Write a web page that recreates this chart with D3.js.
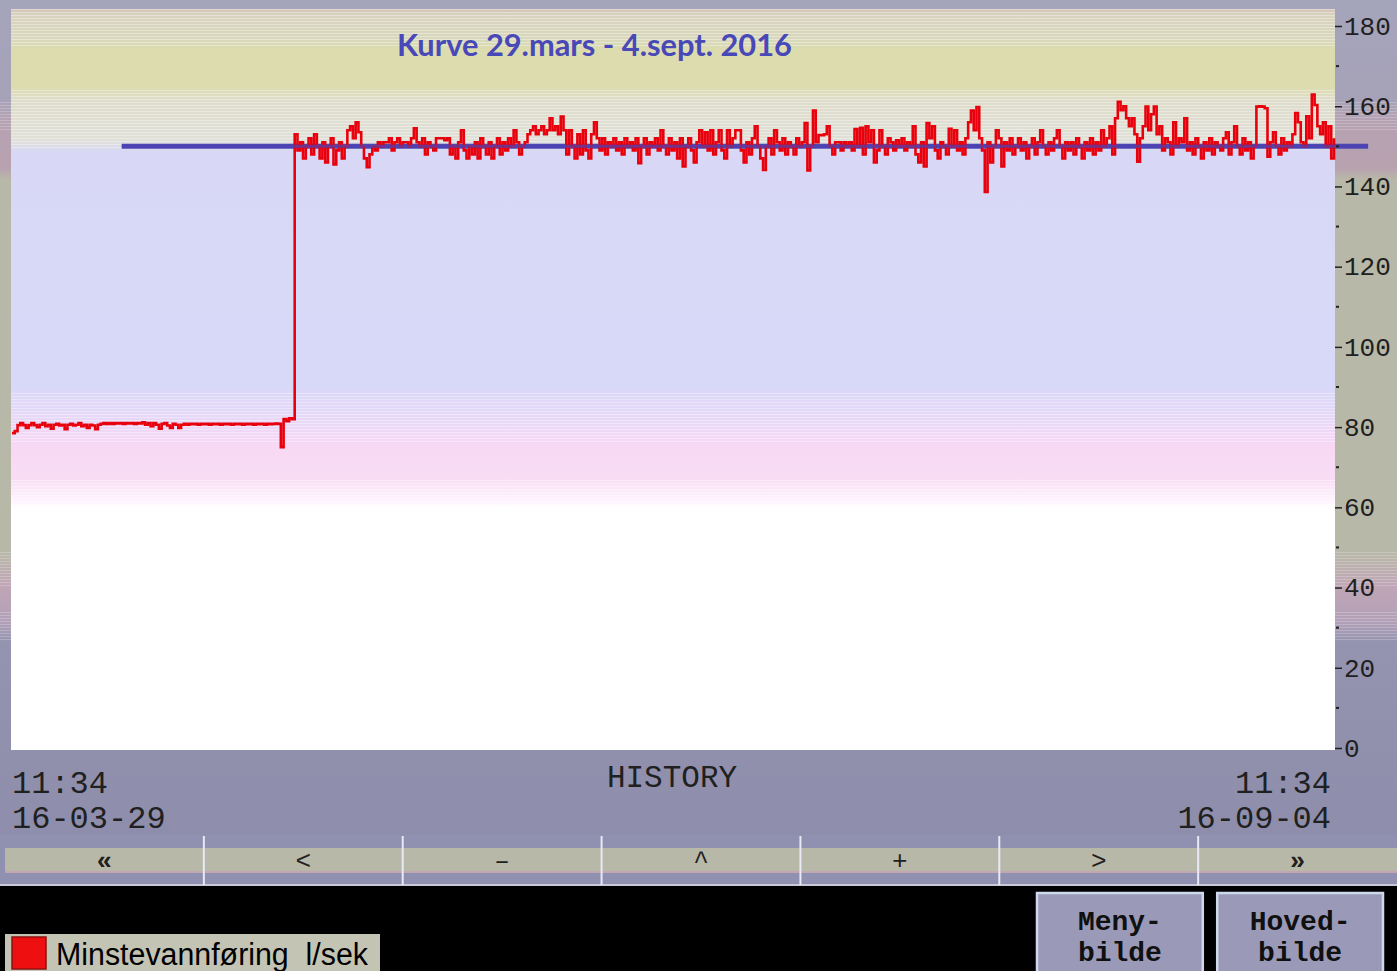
<!DOCTYPE html>
<html>
<head>
<meta charset="utf-8">
<script src="https://cdn.jsdelivr.net/npm/d3@7"></script>
<style>
  body { margin: 0; background: #000; }
  svg { display: block; }
</style>
</head>
<body>
<svg width="1397" height="971"></svg>
<script>
// Minstevannføring (l/sek), one sample every 8 hours from 29.03.2016 11:34
const flow = [
  78.5, 79, 80.5, 81, 80.5, 79.8, 80.5, 81, 80.5, 80,
  80.6, 81, 80.2, 80.6, 79.6, 80.6, 80.8, 80.4, 80.6, 79.5,
  80.6, 80.8, 80.4, 80.6, 81, 80.2, 80.6, 79.8, 80.6, 80.4,
  79.5, 80.6, 80.8, 81, 80.8, 81, 80.8, 81, 80.9, 81,
  80.8, 81, 80.9, 81, 80.8, 81, 80.9, 81.2, 80.6, 81,
  80.2, 81, 80.6, 79.6, 80.8, 81, 80.4, 79.8, 80.8, 80.6,
  79.8, 80.6, 80.8, 80.6, 80.8, 80.7, 80.8, 80.6, 80.8, 80.7,
  80.8, 80.6, 80.8, 80.7, 80.8, 80.6, 80.8, 80.7, 80.8, 80.6,
  80.8, 80.7, 80.8, 80.6, 80.8, 80.7, 80.8, 80.6, 80.8, 80.7,
  80.8, 80.6, 80.8, 80.7, 80.8, 80.9, 80.8, 75, 82, 81.5,
  82.2, 82,
  153, 149, 151, 147, 150, 152, 148, 153, 150, 147,
  151, 146, 150, 152, 145.5, 149, 151, 147, 150, 154,
  155, 152, 156, 153.5, 150, 147, 144.8, 148, 150, 149,
  151, 150, 151, 151, 152, 149, 151, 152, 150, 151,
  151, 150, 152, 154.5, 151, 150, 152, 148, 151, 150,
  149, 152, 152, 152, 151.5, 152, 148, 150, 147, 151,
  154, 149, 147, 150, 148, 151, 147, 152, 150, 148,
  151, 147, 150, 152, 148, 151, 149, 152, 150, 154,
  151, 148, 150, 151, 153, 154, 155, 153, 154, 155,
  153, 154, 157, 154, 155, 153, 157.4, 154, 148, 154,
  150, 147, 153, 148, 154, 149, 147, 153, 156, 152,
  149, 152, 148, 151, 150, 152, 149, 151, 148, 152,
  150, 151, 149, 152, 145.8, 150, 152, 148, 151, 150,
  152, 149, 154, 150, 148, 152, 149, 151, 147, 152,
  145, 150, 152, 149, 146, 151, 154, 150, 153.5, 149,
  154, 148, 151, 154, 149, 147, 154, 150, 152, 154,
  154, 149, 146, 151, 148, 152, 155, 150, 147, 144.1,
  150, 152, 148, 154, 151, 149, 152, 148, 151, 150,
  148, 152, 150, 151, 155.8, 144, 150, 158.9, 151, 152.8,
  152.8, 153, 155, 150, 148, 151, 151, 149, 151, 150,
  151, 149, 154.3, 150, 154.6, 148, 155, 151, 154, 146,
  149, 154, 150, 148, 152, 151, 149, 151.5, 150, 152,
  149, 151, 150, 155, 148, 146, 151, 145, 155.8, 152,
  155, 149, 147, 151, 150, 148, 154.4, 150, 154, 149,
  151, 148, 152, 156, 158.9, 154, 159.8, 152, 149, 138.6,
  151, 146, 150, 154, 152, 145, 151, 149, 152, 148,
  150, 152, 149, 151, 147, 150, 152, 148, 151, 154,
  150, 148, 151, 149, 152, 154, 150, 147, 151, 149,
  151, 148, 152, 150, 147, 151, 149, 152, 148, 151,
  149, 154, 150, 152, 155, 148, 157, 161.1, 159, 160,
  157, 155, 157, 153, 146.2, 152, 155, 159.9, 154, 158,
  159.9, 153, 155, 149, 152, 151, 148, 156, 150, 152,
  151, 157, 149, 151, 148, 152, 150, 147, 151, 149,
  152, 148, 151, 150, 149, 152, 153.5, 148, 151, 155,
  150, 148, 152, 149, 151, 147, 150, 159.9, 160, 159.9,
  159.5, 147.4, 151, 153.5, 150, 148, 152, 149, 151, 150,
  153, 158.3, 156, 151, 150, 157.5, 152, 162.9, 160.3, 155,
  153, 156, 150, 155, 147, 152
];

// setpoint line (blue), from / to
const setpoint = [
  { t: "2016-04-11T16:20Z", v: 150 },
  { t: "2016-09-08T14:00Z", v: 150 }
];

const yTicks = [0, 20, 40, 60, 80, 100, 120, 140, 160, 180];
const yMinor = [10, 30, 50, 70, 90, 110, 130, 150, 170];
const navButtons = ["«", "<", "–", "^", "+", ">", "»"];
const title = "Kurve 29.mars - 4.sept. 2016";
const startLabel = ["11:34", "16-03-29"];
const endLabel = ["11:34", "16-09-04"];
const legendText = "Minstevannføring  l/sek";
const screenButtons = [["Meny-", "bilde"], ["Hoved-", "bilde"]];

const tStart = new Date(Date.UTC(2016, 2, 29, 11, 34));
const tEnd = new Date(Date.UTC(2016, 8, 4, 11, 34));

const svg = d3.select("svg");
const defs = svg.append("defs");

const plot = { left: 11, right: 1335, top: 9, bottom: 750 };

const x = d3.scaleUtc().domain([tStart, tEnd]).range([12, 1334]);
const y = d3.scaleLinear().domain([0, 180]).range([748, 26]);

// gradients
function vGrad(id, y0, y1, stops) {
  const g = defs.append("linearGradient").attr("id", id)
    .attr("gradientUnits", "userSpaceOnUse")
    .attr("x1", 0).attr("x2", 0).attr("y1", y0).attr("y2", y1);
  stops.forEach(s => g.append("stop")
    .attr("offset", (s[0] - y0) / (y1 - y0)).attr("stop-color", s[1]));
}

vGrad("frame", 0, 835, [
  [0, "#a4a4ba"], [98, "#a6a2b8"], [122, "#b6a2b2"], [168, "#b8a2b0"],
  [180, "#b8b8a8"], [552, "#b8b8a8"], [586, "#c0a6b6"], [622, "#b2a0b8"],
  [642, "#9494b0"], [835, "#8e8eac"]
]);

vGrad("plotbg", plot.top, plot.bottom, [
  [9, "#d2c2b8"], [15, "#d8d2be"], [40, "#d8d8bc"], [50, "#dcdcae"],
  [86, "#dcdcae"], [100, "#dedcca"], [140, "#e0e0d8"], [152, "#d8d8f6"],
  [385, "#d8d8f8"], [420, "#e8d8f8"], [445, "#f8d8f4"], [478, "#f8dcf4"],
  [503, "#fff6ff"], [507, "#ffffff"], [750, "#ffffff"]
]);

const pat = defs.append("pattern").attr("id", "stripes")
  .attr("patternUnits", "userSpaceOnUse").attr("width", 8).attr("height", 3);
pat.append("rect").attr("width", 8).attr("height", 1).attr("fill", "#fff").attr("opacity", 0.35);

// frame background
svg.append("rect").attr("x", 0).attr("y", 0).attr("width", 1397).attr("height", 835)
  .attr("fill", "url(#frame)");
[[100, 130], [552, 586], [612, 640]].forEach(r => {
  svg.append("rect").attr("x", 0).attr("y", r[0]).attr("width", 1397).attr("height", r[1] - r[0])
    .attr("fill", "url(#stripes)").attr("opacity", 0.6);
});

// plot background
svg.append("rect").attr("x", plot.left).attr("y", plot.top)
  .attr("width", plot.right - plot.left).attr("height", plot.bottom - plot.top)
  .attr("fill", "url(#plotbg)");
[[9, 46], [88, 150], [392, 442], [478, 506]].forEach(r => {
  svg.append("rect").attr("x", plot.left).attr("y", r[0])
    .attr("width", plot.right - plot.left).attr("height", r[1] - r[0])
    .attr("fill", "url(#stripes)");
});

// title
svg.append("text").attr("x", 397).attr("y", 56)
  .attr("font-family", "Lato, 'Open Sans', sans-serif").attr("font-weight", "bold")
  .attr("font-size", 30.8).attr("fill", "#4848b8").text(title);

// setpoint
svg.append("path").datum(setpoint)
  .attr("d", d3.line().x(d => x(new Date(d.t))).y(d => y(d.v)))
  .attr("stroke", "#4a4ab8").attr("stroke-width", 5).attr("fill", "none");

// series
const line = d3.line()
  .x((d, i) => x(d3.utcHour.offset(tStart, 8 * i)))
  .y(d => y(d))
  .curve(d3.curveStepAfter);

svg.append("path").datum(flow)
  .attr("d", line)
  .attr("fill", "none")
  .attr("stroke", "#e8000c")
  .attr("stroke-width", 2.6)
  .attr("stroke-linejoin", "miter");

// setpoint drawn again thin on top so it reads through the red band
svg.append("path").datum(setpoint)
  .attr("d", d3.line().x(d => x(new Date(d.t))).y(d => y(d.v)))
  .attr("stroke", "#5040b0").attr("stroke-width", 3).attr("opacity", 0.75).attr("fill", "none");

// right axis
const mono = "'Liberation Mono', 'DejaVu Sans Mono', monospace";
const axis = svg.append("g").attr("transform", `translate(${plot.right},0)`)
  .call(d3.axisRight(y).tickValues(yTicks).tickSize(7).tickPadding(2));
axis.select(".domain").remove();
axis.selectAll(".tick line").attr("stroke", "#202020").attr("stroke-width", 1.5);
axis.selectAll(".tick text").attr("font-family", mono).attr("font-size", 26)
  .attr("fill", "#202020");

svg.append("g").attr("transform", `translate(${plot.right},0)`)
  .selectAll("rect").data(yMinor).join("rect")
  .attr("x", 1).attr("y", d => y(d) - 1).attr("width", 3).attr("height", 2)
  .attr("fill", "#202020");

// time labels
const timeText = svg.append("g").attr("font-family", mono).attr("font-size", 32).attr("fill", "#202020");
timeText.selectAll(".s").data(startLabel).join("text").attr("class", "s")
  .attr("x", 12).attr("y", (d, i) => 793 + i * 35).text(d => d);
timeText.selectAll(".e").data(endLabel).join("text").attr("class", "e")
  .attr("x", 1331).attr("text-anchor", "end").attr("y", (d, i) => 793 + i * 35).text(d => d);
timeText.append("text").attr("x", 672).attr("y", 787).attr("font-size", 31)
  .attr("text-anchor", "middle").text("HISTORY");

// navigation strip
const band = d3.scaleBand().domain(navButtons).range([5, 1397]);
svg.append("rect").attr("x", 0).attr("y", 835).attr("width", 1397).attr("height", 51).attr("fill", "#9090b0");
svg.append("rect").attr("x", 5).attr("y", 848).attr("width", 1392).attr("height", 24).attr("fill", "#b8b8a8");
svg.append("rect").attr("x", 5).attr("y", 871).attr("width", 1392).attr("height", 2).attr("fill", "#c2a6b2");
svg.append("rect").attr("x", 0).attr("y", 884).attr("width", 1397).attr("height", 2).attr("fill", "#c8c8d8");
svg.append("g").selectAll("line").data(navButtons.slice(1)).join("line")
  .attr("x1", d => band(d)).attr("x2", d => band(d)).attr("y1", 836).attr("y2", 885)
  .attr("stroke", "#e8e8f6").attr("stroke-width", 2);
svg.append("g").selectAll("text").data(navButtons).join("text")
  .attr("x", d => band(d) + band.bandwidth() / 2).attr("y", 869)
  .attr("text-anchor", "middle").attr("font-family", mono).attr("font-size", 26)
  .attr("font-weight", d => (d === "«" || d === "»") ? "bold" : "normal")
  .attr("fill", "#202020").text(d => d);

// black bottom
svg.append("rect").attr("x", 0).attr("y", 886).attr("width", 1397).attr("height", 85).attr("fill", "#000");

// legend
svg.append("rect").attr("x", 5).attr("y", 934).attr("width", 375).attr("height", 40).attr("fill", "#c4c4b4");
svg.append("rect").attr("x", 12).attr("y", 937).attr("width", 34).attr("height", 32)
  .attr("fill", "#ee1010").attr("stroke", "#901010").attr("stroke-width", 1.5);
svg.append("text").attr("x", 56).attr("y", 965)
  .attr("font-family", "'Liberation Sans', Arial, sans-serif").attr("font-size", 31)
  .attr("textLength", 312).attr("lengthAdjust", "spacingAndGlyphs")
  .attr("fill", "#000").style("white-space", "pre").text(legendText);

// screen buttons
const bx = d3.scaleBand().domain([0, 1]).range([1037, 1383]).paddingInner(0.08);
const btn = svg.append("g").selectAll("g").data(screenButtons).join("g")
  .attr("transform", (d, i) => `translate(${bx(i)},893)`);
btn.append("rect").attr("width", bx.bandwidth()).attr("height", 90)
  .attr("fill", "#9a9ab8").attr("stroke", "#d0d8ec").attr("stroke-width", 2.5);
btn.selectAll("text").data(d => d).join("text")
  .attr("x", bx.bandwidth() / 2).attr("y", (d, i) => 37 + i * 31)
  .attr("text-anchor", "middle").attr("font-family", mono).attr("font-weight", "bold")
  .attr("font-size", 28).attr("fill", "#101010").text(d => d);
</script>
</body>
</html>
